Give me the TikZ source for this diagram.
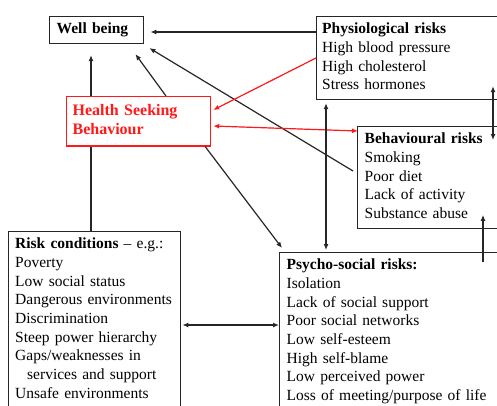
\documentclass[tikz,border=0pt]{standalone}
\usepackage{fontspec}
\setmainfont{Liberation Serif}
\usetikzlibrary{arrows.meta}
\pgfdeclarelayer{background}
\pgfsetlayers{background,main}

\tikzset{
  box/.style = {draw = black!85, line width = 1.4pt, fill = white, anchor = north west,
    align = left, inner ysep = 4pt, font = \fontsize{15.5}{18.7}\selectfont},
  hsbbox/.style = {box, draw = red!90, line width = 1.2pt, text = red!90, inner ysep = 6pt,
    font = \fontsize{16}{18.7}\selectfont\bfseries},
  link/.style = {-{Latex[length = 6pt, width = 5pt]}, line width = 1.2pt, draw = black!85},
  both/.style = {link, {Latex[length = 6pt, width = 5pt]}-{Latex[length = 6pt, width = 5pt]}},
  redlink/.style = {link, draw = red!90, fill = red!90}
}

\begin{document}
\begin{tikzpicture}[x = 1pt, y = -1pt]
	 \useasboundingbox (0, 0) rectangle (497, 405);
	 \clip (0, 0) rectangle (497, 405);

	 % boxes
	 \node[box, text width = 80pt, inner xsep = 7pt] (well) at (49, 16)
	   {\strut\textbf{Well being}\strut};
	 \node[box, text width = 203pt, inner xsep = 5.5pt] (phys) at (316, 16)
	   {\strut\textbf{Physiological risks}\\ High blood pressure\\ High cholesterol\\ Stress hormones\strut};
	 \node[box, text width = 159pt, inner xsep = 7pt] (beh) at (357, 126)
	   {\strut\textbf{Behavioural risks}\\ Smoking\\ Poor diet\\ Lack of activity\\ Substance abuse\strut};
	 \node[hsbbox, text width = 132pt, inner xsep = 6pt] (hsb) at (66, 96)
	   {\strut Health Seeking\\ Behaviour\strut};
	 \node[box, text width = 159pt, inner xsep = 6.5pt] (risk) at (8, 231)
	   {\strut\textbf{Risk conditions} -- e.g.:\\ Poverty\\ Low social status\\ Dangerous environments\\
	    Discrimination\\ Steep power hierarchy\\ Gaps/weaknesses in\\ \hspace*{12pt}services and support\\
	    Unsafe environments\strut};
	 \node[box, text width = 237pt, inner xsep = 7pt] (psy) at (279, 252)
	   {\strut\textbf{Psycho-social risks:}\\ Isolation\\ Lack of social support\\ Poor social networks\\
	    Low self-esteem\\ High self-blame\\ Low perceived power\\ Loss of meeting/purpose of life\strut};

	 % connectors
	 \begin{pgfonlayer}{background}
	 \draw[link] ([xshift = 83pt]risk.north west) -- ([xshift = 42pt, yshift = -11pt]well.south west);
	 \end{pgfonlayer}
	 \draw[link] ([yshift = -16pt]phys.north west) -- ([xshift = 6pt, yshift = -16pt]well.north east);
	 \draw[link] ([xshift = -4pt, yshift = -45pt]beh.north west) -- ([xshift = 5pt, yshift = -4pt]well.south east);
	 \draw[link] ([xshift = 100pt]hsb.north west) -- ([xshift = -9pt, yshift = -10pt]well.south east);
	 \draw[link] ([xshift = -6pt]hsb.south east) -- ([xshift = 3pt, yshift = 4pt]psy.north west);
	 \draw[redlink] ([yshift = -42pt]phys.north west) -- ([xshift = 2pt, yshift = -14pt]hsb.north east);
	 \draw[redlink, both, draw = red!90] ([xshift = 2pt, yshift = -30pt]hsb.north east) -- ([xshift = 1pt, yshift = -5pt]beh.north west);
	 \draw[both] ([xshift = 47pt, yshift = 2pt]psy.north west) -- ([xshift = 10pt, yshift = -3pt]phys.south west);
	 \draw[both] ([xshift = 177pt, yshift = 14pt]phys.south west) -- ([xshift = 136pt, yshift = -14pt]beh.north west);
	 \draw[link] ([xshift = 204pt, yshift = -10pt]psy.north west) -- ([xshift = 126pt, yshift = 14pt]beh.south west);
	 \draw[both] ([xshift = 1pt, yshift = -94pt]risk.north east) -- ([yshift = -73pt]psy.north west);
\end{tikzpicture}
\end{document}
